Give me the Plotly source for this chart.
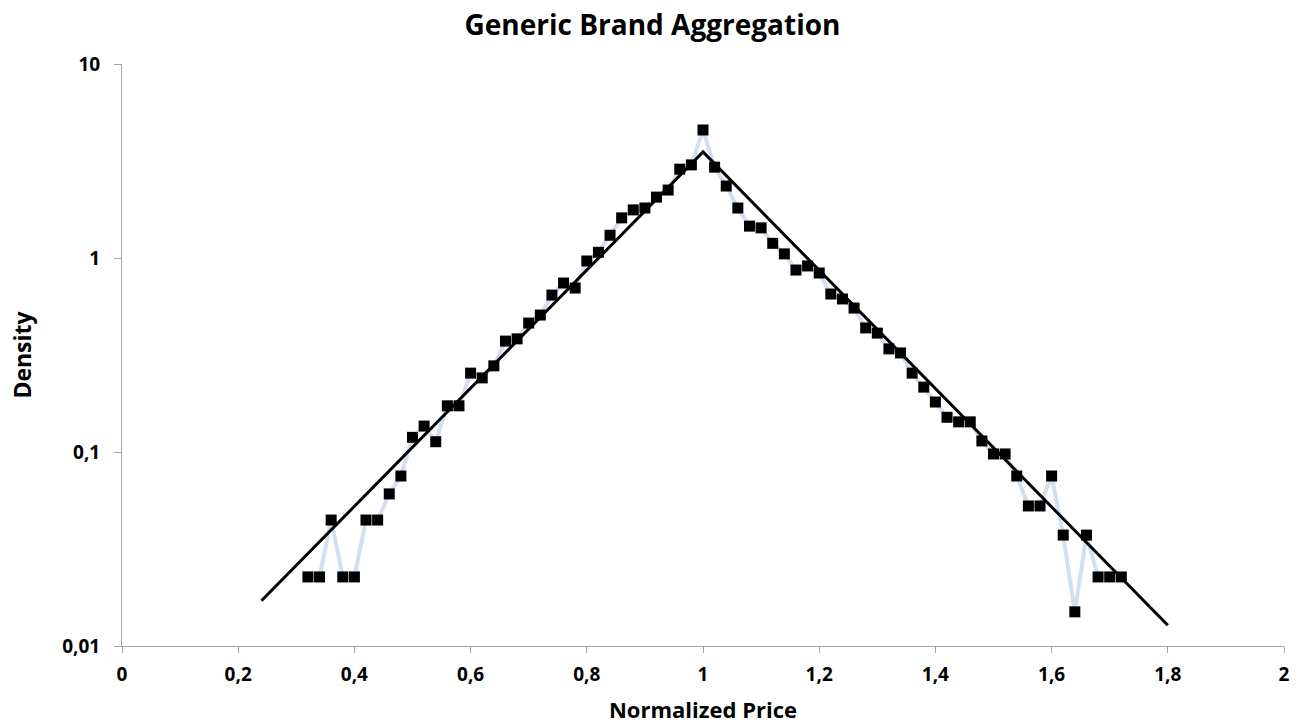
import plotly.graph_objects as go

# Observed density per normalized price bin
price = [0.32, 0.34, 0.36, 0.38, 0.40, 0.42, 0.44, 0.46, 0.48, 0.50,
         0.52, 0.54, 0.56, 0.58, 0.60, 0.62, 0.64, 0.66, 0.68, 0.70,
         0.72, 0.74, 0.76, 0.78, 0.80, 0.82, 0.84, 0.86, 0.88, 0.90,
         0.92, 0.94, 0.96, 0.98, 1.00, 1.02, 1.04, 1.06, 1.08, 1.10,
         1.12, 1.14, 1.16, 1.18, 1.20, 1.22, 1.24, 1.26, 1.28, 1.30,
         1.32, 1.34, 1.36, 1.38, 1.40, 1.42, 1.44, 1.46, 1.48, 1.50,
         1.52, 1.54, 1.56, 1.58, 1.60, 1.62, 1.64, 1.66, 1.68, 1.70, 1.72]
density = [0.0227, 0.0227, 0.0446, 0.0227, 0.0227, 0.0446, 0.0446, 0.0608, 0.0752, 0.119,
           0.136, 0.113, 0.173, 0.173, 0.255, 0.241, 0.278, 0.373, 0.383, 0.462,
           0.508, 0.644, 0.743, 0.70, 0.965, 1.07, 1.31, 1.61, 1.77, 1.81,
           2.06, 2.24, 2.87, 3.02, 4.57, 2.94, 2.35, 1.81, 1.46, 1.43,
           1.19, 1.05, 0.867, 0.91, 0.837, 0.652, 0.615, 0.552, 0.436, 0.41,
           0.34, 0.324, 0.255, 0.216, 0.181, 0.151, 0.143, 0.143, 0.114, 0.0977,
           0.0977, 0.0752, 0.0527, 0.0527, 0.0752, 0.0373, 0.015, 0.0373, 0.0227, 0.0227, 0.0227]

# Fitted (exponential) model line
fit_price = [0.24, 1.00, 1.80]
fit_density = [0.0171, 3.52, 0.0128]

x_tickvals = [0, 0.2, 0.4, 0.6, 0.8, 1.0, 1.2, 1.4, 1.6, 1.8, 2.0]
x_ticktext = ["0", "0,2", "0,4", "0,6", "0,8", "1", "1,2", "1,4", "1,6", "1,8", "2"]
y_tickvals = [0.01, 0.1, 1, 10]
y_ticktext = ["0,01", "0,1", "1", "10"]

FONT = "Open Sans"

fig = go.Figure()
fig.add_trace(go.Scatter(
    x=price, y=density, mode="lines",
    line=dict(color="#d3dff1", width=4),
    showlegend=False, hoverinfo="skip"))
fig.add_trace(go.Scatter(
    x=fit_price, y=fit_density, mode="lines",
    line=dict(color="#000000", width=3),
    showlegend=False))
fig.add_trace(go.Scatter(
    x=price, y=density, mode="markers",
    marker=dict(symbol="square", size=11, color="#000000"),
    showlegend=False))

fig.update_layout(
    width=1305, height=724,
    paper_bgcolor="white", plot_bgcolor="white",
    margin=dict(l=122, r=21, t=64, b=78, autoexpand=False),
    title=dict(text="<b>Generic Brand Aggregation</b>", x=0.5, xanchor="center",
               y=1 - 25 / 724, yanchor="middle",
               font=dict(family=FONT, size=28, color="#000000")),
    xaxis=dict(range=[0, 2], tickvals=x_tickvals, ticktext=x_ticktext,
               showgrid=False, zeroline=False,
               showline=True, linecolor="#a6a6a6", linewidth=1,
               ticks="outside", ticklen=6, tickcolor="#a6a6a6",
               ticklabelstandoff=5,
               tickfont=dict(family=FONT, size=19, color="#000000", weight="bold"),
               title=dict(text="<b>Normalized Price</b>", standoff=16,
                          font=dict(family=FONT, size=22, color="#000000"))),
    yaxis=dict(type="log", range=[-2, 1], tickvals=y_tickvals, ticktext=y_ticktext,
               showgrid=False, zeroline=False,
               showline=True, linecolor="#a6a6a6", linewidth=1,
               ticks="outside", ticklen=7, tickcolor="#a6a6a6",
               ticklabelstandoff=10,
               tickfont=dict(family=FONT, size=19, color="#000000", weight="bold"),
               title=dict(text="<b>Density</b>", standoff=24,
                          font=dict(family=FONT, size=23, color="#000000"))),
)

fig.write_html("out.html",
               config={"displayModeBar": False},
               post_script="document.body.style.margin='0';document.body.style.overflow='hidden';")
